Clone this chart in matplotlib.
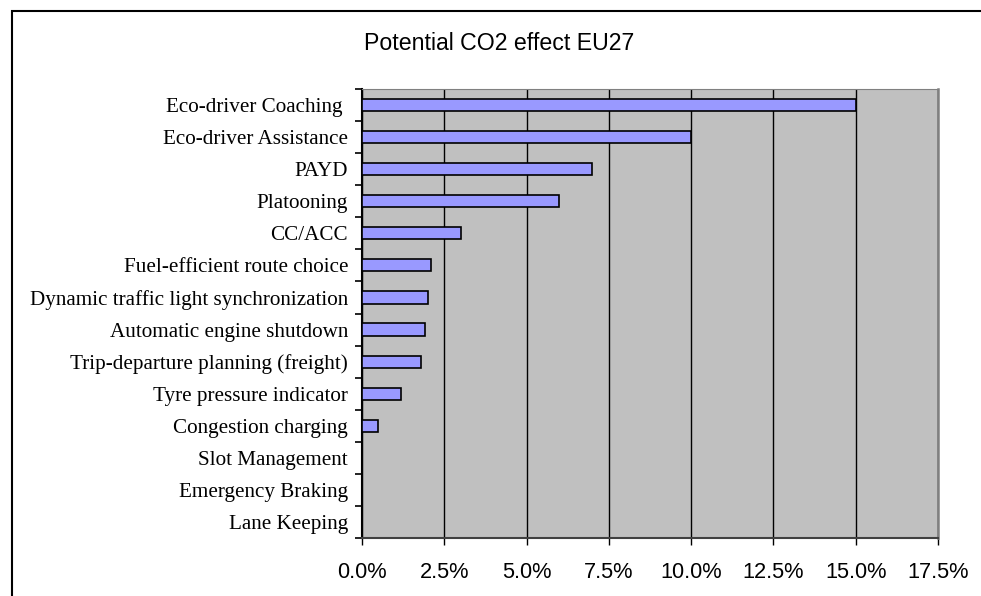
import matplotlib
matplotlib.use("Agg")
import matplotlib.pyplot as plt
from matplotlib.patches import Rectangle
from matplotlib.ticker import FuncFormatter, MultipleLocator, FixedLocator

# measures, top to bottom as in the chart
measures = [
    "Eco-driver Coaching ",
    "Eco-driver Assistance",
    "PAYD",
    "Platooning",
    "CC/ACC",
    "Fuel-efficient route choice",
    "Dynamic traffic light synchronization",
    "Automatic engine shutdown",
    "Trip-departure planning (freight)",
    "Tyre pressure indicator",
    "Congestion charging",
    "Slot Management",
    "Emergency Braking",
    "Lane Keeping",
]
# potential CO2 reduction, percent
co2_effect = [15.0, 10.0, 7.0, 6.0, 3.0, 2.1, 2.0, 1.9, 1.8, 1.2, 0.5, 0, 0, 0]

title = "Potential CO2 effect EU27"

fig = plt.figure(figsize=(9.81, 5.96), dpi=100)
fig.patch.set_facecolor("white")

# outer chart border (cut off at right and bottom in the original)
fig.add_artist(Rectangle((12 / 981, -0.05), 1.0, 1 - 11 / 596 + 0.05,
                         transform=fig.transFigure, fill=False,
                         edgecolor="black", linewidth=1.5, clip_on=False))

ax = fig.add_axes([362 / 981, 58 / 596, 576 / 981, 449 / 596])
ax.set_facecolor("#c0c0c0")

ypos = list(range(len(measures)))
ax.barh(ypos, co2_effect, height=0.38, color="#9999ff",
        edgecolor="black", linewidth=1.2, zorder=3)

ax.set_xlim(0, 17.5)
ax.set_ylim(len(measures) - 0.5, -0.5)

ax.xaxis.set_major_locator(MultipleLocator(2.5))
ax.xaxis.set_major_formatter(FuncFormatter(lambda v, p: f"{v:.1f}%"))
ax.grid(axis="x", color="black", linewidth=1.0, zorder=1)
ax.set_axisbelow(True)

# category labels centred, ticks on category boundaries
ax.set_yticks(ypos)
ax.set_yticklabels(measures, fontfamily="Liberation Serif", fontsize=15.2)
ax.tick_params(axis="y", length=0, pad=10)
ax.yaxis.set_minor_locator(FixedLocator([i - 0.5 for i in range(len(measures) + 1)]))
ax.tick_params(axis="y", which="minor", length=5, width=1.2, direction="out")

for lab in ax.get_xticklabels():
    lab.set_fontfamily("Liberation Sans")
    lab.set_fontsize(15.7)
ax.tick_params(axis="x", length=5, width=1.0, direction="out", pad=12)

ax.spines["left"].set_color("black")
ax.spines["left"].set_linewidth(1.5)
ax.spines["bottom"].set_color("#404040")
ax.spines["bottom"].set_linewidth(1.5)
ax.spines["top"].set_color("#808080")
ax.spines["right"].set_color("#808080")
ax.spines["right"].set_linewidth(1.8)

fig.text(499 / 981, 1 - 43 / 596, title, ha="center", va="center",
         fontfamily="Liberation Sans", fontsize=16.7)

fig.savefig("out.png", dpi=100)
